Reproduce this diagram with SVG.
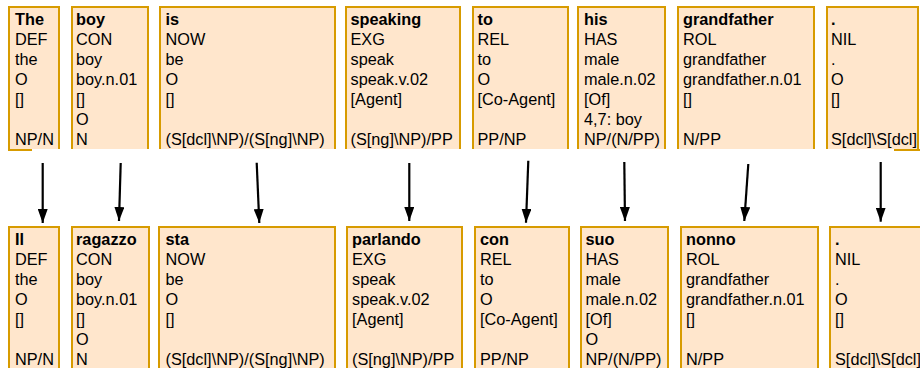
<svg xmlns="http://www.w3.org/2000/svg" width="920" height="368" viewBox="0 0 920 368">
<defs>
<style>
.bg{fill:#ffe6cc;stroke:none}
.bd{fill:none;stroke:#d79b00;stroke-width:2}
.t{font-family:"Liberation Sans",Arial,Helvetica,sans-serif;font-size:16.3px;fill:#000}
.b{font-weight:bold}
.c{stroke:#000;stroke-width:2.2;fill:none}
</style>
<marker id="ah" viewBox="0 0 10 14" refX="10" refY="5" markerWidth="10" markerHeight="14" markerUnits="userSpaceOnUse" orient="auto">
<path d="M0,0 L14,5 L0,10 Z" fill="#000"/>
</marker>
<marker id="arr" viewBox="0 0 14 10" refX="14" refY="5" markerWidth="14" markerHeight="10" markerUnits="userSpaceOnUse" orient="auto">
<path d="M0,0 L14,5 L0,10 Z" fill="#000"/>
</marker>
</defs>

<g id="top-the"><rect class="bg" x="9" y="7" width="50" height="142"/><path class="bd" d="M9,149 V7 H59 V149"/><path class="bd" d="M8,150 H32"/>
<text class="t" x="15" y="25"><tspan class="b">The</tspan><tspan x="15" dy="20">DEF</tspan><tspan x="15" dy="20">the</tspan><tspan x="15" dy="20">O</tspan><tspan x="15" dy="20">[]</tspan><tspan x="15" dy="40">NP/N</tspan></text></g>

<g id="top-boy"><rect class="bg" x="72" y="7" width="76" height="142"/><path class="bd" d="M72,149 V7 H148 V149"/>
<text class="t" x="76" y="25"><tspan class="b">boy</tspan><tspan x="76" dy="20">CON</tspan><tspan x="76" dy="20">boy</tspan><tspan x="76" dy="20">boy.n.01</tspan><tspan x="76" dy="20">[]</tspan><tspan x="76" dy="20">O</tspan><tspan x="76" dy="20">N</tspan></text></g>

<g id="top-is"><rect class="bg" x="160" y="7" width="175" height="142"/><path class="bd" d="M160,149 V7 H335 V149"/>
<text class="t" x="165.5" y="25"><tspan class="b">is</tspan><tspan x="165.5" dy="20">NOW</tspan><tspan x="165.5" dy="20">be</tspan><tspan x="165.5" dy="20">O</tspan><tspan x="165.5" dy="20">[]</tspan><tspan x="165.5" dy="40">(S[dcl]\NP)/(S[ng]\NP)</tspan></text></g>

<g id="top-speaking"><rect class="bg" x="346" y="7" width="114" height="142"/><path class="bd" d="M346,149 V7 H460 V149"/>
<text class="t" x="350.5" y="25"><tspan class="b">speaking</tspan><tspan x="350.5" dy="20">EXG</tspan><tspan x="350.5" dy="20">speak</tspan><tspan x="350.5" dy="20">speak.v.02</tspan><tspan x="350.5" dy="20">[Agent]</tspan><tspan x="350.5" dy="40">(S[ng]\NP)/PP</tspan></text></g>

<g id="top-to"><rect class="bg" x="473" y="7" width="95" height="142"/><path class="bd" d="M473,149 V7 H568 V149"/>
<text class="t" x="477.5" y="25"><tspan class="b">to</tspan><tspan x="477.5" dy="20">REL</tspan><tspan x="477.5" dy="20">to</tspan><tspan x="477.5" dy="20">O</tspan><tspan x="477.5" dy="20">[Co-Agent]</tspan><tspan x="477.5" dy="40">PP/NP</tspan></text></g>

<g id="top-his"><rect class="bg" x="578" y="7" width="87" height="142"/><path class="bd" d="M578,149 V7 H665 V149"/>
<text class="t" x="584" y="25"><tspan class="b">his</tspan><tspan x="584" dy="20">HAS</tspan><tspan x="584" dy="20">male</tspan><tspan x="584" dy="20">male.n.02</tspan><tspan x="584" dy="20">[Of]</tspan><tspan x="584" dy="20">4,7: boy</tspan><tspan x="584" dy="20">NP/(N/PP)</tspan></text></g>

<g id="top-grandfather"><rect class="bg" x="678" y="7" width="136" height="142"/><path class="bd" d="M678,149 V7 H814 V149"/>
<text class="t" x="683" y="25"><tspan class="b">grandfather</tspan><tspan x="683" dy="20">ROL</tspan><tspan x="683" dy="20">grandfather</tspan><tspan x="683" dy="20">grandfather.n.01</tspan><tspan x="683" dy="20">[]</tspan><tspan x="683" dy="40">N/PP</tspan></text></g>

<g id="top-dot"><rect class="bg" x="827" y="7" width="91" height="142"/><path class="bd" d="M827,149 V7 H918 V149"/><path class="bd" d="M894,150 H920"/>
<text class="t" x="831" y="25"><tspan class="b">.</tspan><tspan x="831" dy="20">NIL</tspan><tspan x="831" dy="20">.</tspan><tspan x="831" dy="20">O</tspan><tspan x="831" dy="20">[]</tspan><tspan x="831" dy="40">S[dcl]\S[dcl]</tspan></text></g>

<g id="bot-il"><rect class="bg" x="9" y="227" width="50" height="145"/><path class="bd" d="M9,372 V227 H59 V372"/>
<text class="t" x="15" y="245"><tspan class="b">Il</tspan><tspan x="15" dy="20">DEF</tspan><tspan x="15" dy="20">the</tspan><tspan x="15" dy="20">O</tspan><tspan x="15" dy="20">[]</tspan><tspan x="15" dy="40">NP/N</tspan></text></g>

<g id="bot-ragazzo"><rect class="bg" x="72" y="227" width="77" height="145"/><path class="bd" d="M72,372 V227 H149 V372"/>
<text class="t" x="76" y="245"><tspan class="b">ragazzo</tspan><tspan x="76" dy="20">CON</tspan><tspan x="76" dy="20">boy</tspan><tspan x="76" dy="20">boy.n.01</tspan><tspan x="76" dy="20">[]</tspan><tspan x="76" dy="20">O</tspan><tspan x="76" dy="20">N</tspan></text></g>

<g id="bot-sta"><rect class="bg" x="159" y="227" width="176" height="145"/><path class="bd" d="M159,372 V227 H335 V372"/>
<text class="t" x="165.5" y="245"><tspan class="b">sta</tspan><tspan x="165.5" dy="20">NOW</tspan><tspan x="165.5" dy="20">be</tspan><tspan x="165.5" dy="20">O</tspan><tspan x="165.5" dy="20">[]</tspan><tspan x="165.5" dy="40">(S[dcl]\NP)/(S[ng]\NP)</tspan></text></g>

<g id="bot-parlando"><rect class="bg" x="347" y="227" width="115" height="145"/><path class="bd" d="M347,372 V227 H462 V372"/>
<text class="t" x="352" y="245"><tspan class="b">parlando</tspan><tspan x="352" dy="20">EXG</tspan><tspan x="352" dy="20">speak</tspan><tspan x="352" dy="20">speak.v.02</tspan><tspan x="352" dy="20">[Agent]</tspan><tspan x="352" dy="40">(S[ng]\NP)/PP</tspan></text></g>

<g id="bot-con"><rect class="bg" x="475" y="227" width="94" height="145"/><path class="bd" d="M475,372 V227 H569 V372"/>
<text class="t" x="480" y="245"><tspan class="b">con</tspan><tspan x="480" dy="20">REL</tspan><tspan x="480" dy="20">to</tspan><tspan x="480" dy="20">O</tspan><tspan x="480" dy="20">[Co-Agent]</tspan><tspan x="480" dy="40">PP/NP</tspan></text></g>

<g id="bot-suo"><rect class="bg" x="581" y="227" width="87" height="145"/><path class="bd" d="M581,372 V227 H668 V372"/>
<text class="t" x="585.5" y="245"><tspan class="b">suo</tspan><tspan x="585.5" dy="20">HAS</tspan><tspan x="585.5" dy="20">male</tspan><tspan x="585.5" dy="20">male.n.02</tspan><tspan x="585.5" dy="20">[Of]</tspan><tspan x="585.5" dy="20">O</tspan><tspan x="585.5" dy="20">NP/(N/PP)</tspan></text></g>

<g id="bot-nonno"><rect class="bg" x="681" y="227" width="137" height="145"/><path class="bd" d="M681,372 V227 H818 V372"/>
<text class="t" x="686" y="245"><tspan class="b">nonno</tspan><tspan x="686" dy="20">ROL</tspan><tspan x="686" dy="20">grandfather</tspan><tspan x="686" dy="20">grandfather.n.01</tspan><tspan x="686" dy="20">[]</tspan><tspan x="686" dy="40">N/PP</tspan></text></g>

<g id="bot-dot"><rect class="bg" x="830" y="227" width="95" height="145"/><path class="bd" d="M830,372 V227 H925"/>
<text class="t" x="835" y="245"><tspan class="b">.</tspan><tspan x="835" dy="20">NIL</tspan><tspan x="835" dy="20">.</tspan><tspan x="835" dy="20">O</tspan><tspan x="835" dy="20">[]</tspan><tspan x="835" dy="40">S[dcl]\S[dcl]</tspan></text></g>

<g id="connectors">
<line class="c" x1="42.7" y1="163" x2="42.7" y2="223" marker-end="url(#arr)"/>
<line class="c" x1="120.7" y1="163" x2="119" y2="221" marker-end="url(#arr)"/>
<line class="c" x1="256.7" y1="162.7" x2="259.3" y2="223" marker-end="url(#arr)"/>
<line class="c" x1="409.3" y1="163" x2="409.3" y2="221" marker-end="url(#arr)"/>
<line class="c" x1="528.3" y1="160.7" x2="526" y2="222.7" marker-end="url(#arr)"/>
<line class="c" x1="624.3" y1="162" x2="625" y2="221" marker-end="url(#arr)"/>
<line class="c" x1="748.3" y1="164" x2="744.3" y2="221" marker-end="url(#arr)"/>
<line class="c" x1="880.7" y1="162" x2="880.7" y2="221.7" marker-end="url(#arr)"/>
</g>
</svg>
